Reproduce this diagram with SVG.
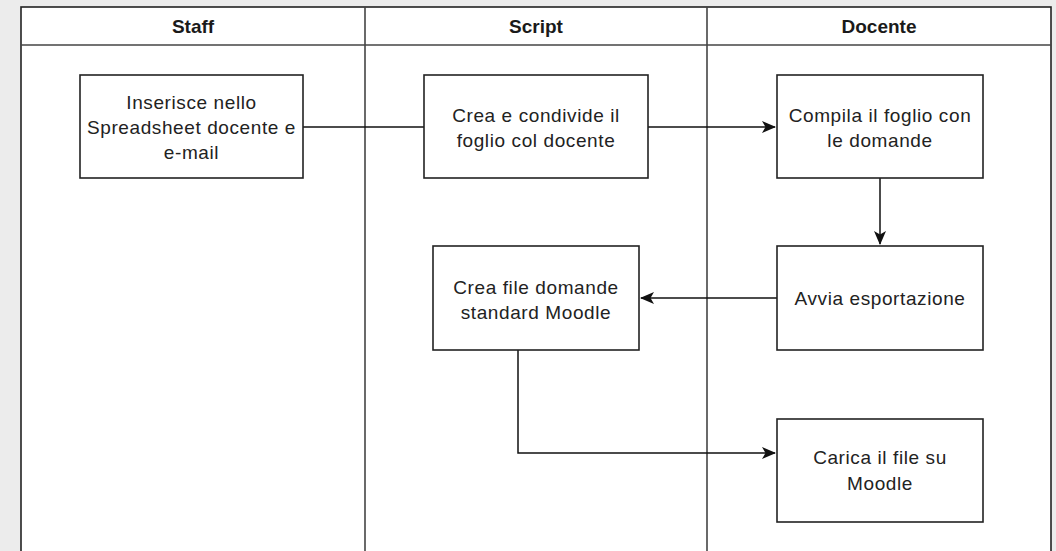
<svg xmlns="http://www.w3.org/2000/svg" width="1056" height="551" viewBox="0 0 1056 551">
<defs>
<marker id="arr" markerWidth="14" markerHeight="12" refX="13" refY="6" orient="auto" markerUnits="userSpaceOnUse">
<path d="M0,0 L14,6 L0,12 L3.5,6 Z" fill="#111"/>
</marker>
<style>
.frame{fill:#fff;stroke:#222;stroke-width:1.6}
.div{stroke:#444;stroke-width:1.6}
.box{fill:#fff;stroke:#222;stroke-width:1.6}
.hd{font-family:"Liberation Sans",Arial,sans-serif;font-weight:bold;font-size:19px;fill:#1a1a1a;text-anchor:middle}
.tx{font-family:"Liberation Sans",Arial,sans-serif;font-size:19px;fill:#222;text-anchor:middle;letter-spacing:0.6px}
.edge{fill:none;stroke:#111;stroke-width:1.5}
</style>
</defs>
<rect x="0" y="0" width="1056" height="551" fill="#ececec"/>
<g id="pool">
<rect x="21" y="7" width="1030" height="560" class="frame"/>
<line x1="21" y1="45" x2="1051" y2="45" class="div"/>
<line x1="365" y1="7" x2="365" y2="560" class="div"/>
<line x1="707" y1="7" x2="707" y2="560" class="div"/>
</g>
<g id="lane-staff"><text class="hd" x="193" y="33">Staff</text></g>
<g id="lane-script"><text class="hd" x="536" y="33">Script</text></g>
<g id="lane-docente"><text class="hd" x="879" y="33">Docente</text></g>
<g id="connectors">
<path class="edge" d="M303,127 L775,127" marker-end="url(#arr)"/>
<path class="edge" d="M880,178 L880,244" marker-end="url(#arr)"/>
<path class="edge" d="M777,298 L641,298" marker-end="url(#arr)"/>
<path class="edge" d="M518,350 L518,453 L775,453" marker-end="url(#arr)"/>
</g>
<g id="n-inserisce">
<rect class="box" x="80" y="75" width="223" height="103"/>
<text class="tx" x="191.5" y="109">Inserisce nello</text>
<text class="tx" x="191.5" y="134">Spreadsheet docente e</text>
<text class="tx" x="191.5" y="159">e-mail</text>
</g>
<g id="n-crea-condivide">
<rect class="box" x="424" y="75" width="224" height="103"/>
<text class="tx" x="536" y="122">Crea e condivide il</text>
<text class="tx" x="536" y="147">foglio col docente</text>
</g>
<g id="n-compila">
<rect class="box" x="777" y="75" width="206" height="103"/>
<text class="tx" x="880" y="122">Compila il foglio con</text>
<text class="tx" x="880" y="147">le domande</text>
</g>
<g id="n-crea-file">
<rect class="box" x="433" y="246" width="206" height="104"/>
<text class="tx" x="536" y="294">Crea file domande</text>
<text class="tx" x="536" y="319">standard Moodle</text>
</g>
<g id="n-avvia">
<rect class="box" x="777" y="246" width="206" height="104"/>
<text class="tx" x="880" y="305">Avvia esportazione</text>
</g>
<g id="n-carica">
<rect class="box" x="777" y="419" width="206" height="103"/>
<text class="tx" x="880" y="464">Carica il file su</text>
<text class="tx" x="880" y="490">Moodle</text>
</g>
</svg>
